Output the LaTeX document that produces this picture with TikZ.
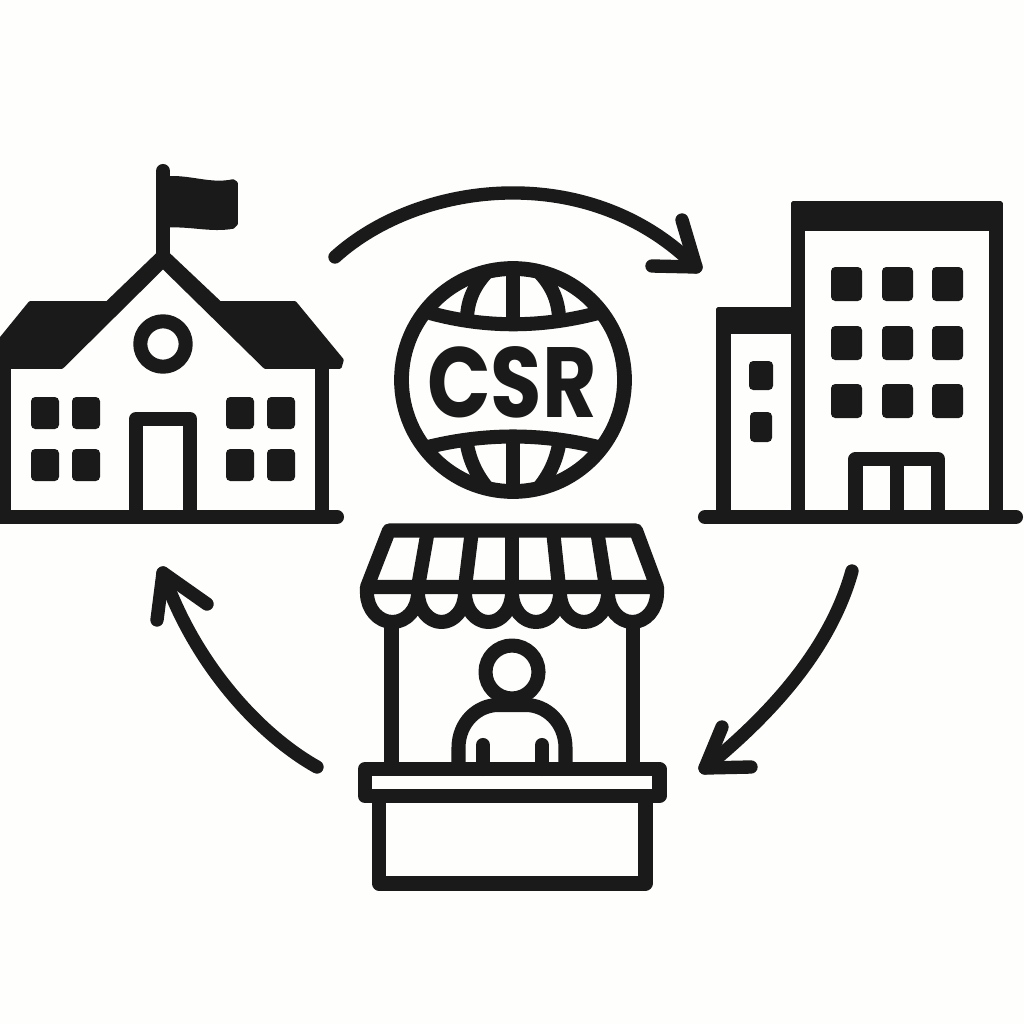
\documentclass[tikz,border=0pt]{standalone}
\usepackage{fontspec}
\setsansfont{Poppins}
\definecolor{ink}{HTML}{1A1A1A}
\definecolor{paper}{HTML}{FEFEFC}
\tikzset{
	stroke/.style={draw=ink, line width=4pt, line join=round},
	roundstroke/.style={stroke, line cap=round},
	globeline/.style={draw=ink, line width=4.2pt},
	arrowline/.style={draw=ink, line width=3.8pt, line cap=round, line join=round},
	blackpart/.style={fill=ink, draw=ink, line width=1pt, line join=round},
	windowbox/.style={fill=ink, rounded corners=1.2pt},
}

\begin{document}
\begin{tikzpicture}[x=0.01cm, y=-0.01cm]
		
		\fill[paper] (0, 0) rectangle (1024, 1024);
		\clip (0, 0) rectangle (1024, 1024);
		
		% school
		\draw[roundstroke] (163, 171) -- (163, 258);
		\fill[blackpart] (165, 178) .. controls (190, 176) and (210, 186) .. (233, 181) -- (236, 183) -- (236, 224) -- (233, 227) .. controls (210, 231) and (190, 224) .. (165, 226) -- cycle;
		\fill[blackpart] (-5, 346) -- (30, 303) -- (107, 303) -- (160, 252) -- (166, 252) -- (163, 267) -- (62, 367) -- (-5, 367) -- cycle;
		\fill[blackpart] (166, 252) -- (220, 303) -- (295, 303) -- (342, 360) -- (340, 367) -- (265, 367) -- (163, 267) -- (160, 252) -- cycle;
		\draw[stroke] (4, 360) -- (4, 517);
		\draw[stroke] (322, 360) -- (322, 517);
		\draw[stroke] (163, 344) circle (22.7);
		\draw[stroke] (136, 517) -- (136, 419) -- (190, 419) -- (190, 517);
		\foreach \wx/\wy in {31/397, 72/397, 31/449, 72/449, 226/397, 267/397, 226/449, 267/449}
			\fill[windowbox] (\wx, \wy) rectangle ++(28, 32);
		\draw[roundstroke] (-10, 517) -- (337, 517);
		
		% arrow from school to office
		\coordinate (tailA) at (335, 257);
		\coordinate (tipA) at (696, 267);
		\draw[arrowline] (tailA) .. controls (420, 180) and (590, 160) .. (tipA);
		\draw[arrowline] (682, 220) -- (tipA) -- (652, 266);
		
		% office
		\fill[blackpart] (793, 203) rectangle (1001, 229);
		\fill[blackpart] (718, 309) rectangle (798, 332);
		\draw[stroke] (798, 210) -- (798, 517);
		\draw[stroke] (996, 210) -- (996, 517);
		\draw[stroke] (723.5, 320) -- (723.5, 517);
		\foreach \wx in {831, 882, 932}
			\foreach \wy in {267, 326, 384}
				\fill[windowbox] (\wx, \wy) rectangle ++(31, 34);
		\fill[windowbox] (749, 361) rectangle (773, 390);
		\fill[windowbox] (750, 412) rectangle (772, 442);
		\draw[stroke] (855.5, 517) -- (855.5, 459) -- (938, 459) -- (938, 517);
		\draw[stroke] (897, 459) -- (897, 517);
		\draw[roundstroke] (705, 517) -- (1016, 517);
		
		% globe
		\draw[globeline] (513, 380) circle (111.5);
		\draw[stroke] (430, 313) .. controls (485, 328) and (541, 328) .. (598, 313);
		\draw[stroke] (428, 447) .. controls (485, 433) and (541, 433) .. (598, 447);
		\draw[stroke] (513, 265) -- (513, 322);
		\draw[stroke] (513, 438) -- (513, 495);
		\draw[stroke] (489, 270) .. controls (474, 285) and (468, 300) .. (467, 317);
		\draw[stroke] (537, 270) .. controls (552, 285) and (558, 300) .. (559, 317);
		\draw[stroke] (467, 445) .. controls (470, 460) and (476, 475) .. (489, 490);
		\draw[stroke] (559, 445) .. controls (556, 460) and (550, 475) .. (537, 490);
		\node[inner sep=0pt, text=ink, xscale=0.88, yscale=1.05, transform shape] (csr) at (512, 382) {\sffamily\bfseries\fontsize{27}{27}\selectfont CSR};
		
		% arrow from office to stall
		\coordinate (tailB) at (852, 571);
		\coordinate (tipB) at (705, 768);
		\draw[arrowline] (tailB) .. controls (830, 650) and (770, 715) .. (tipB);
		\draw[arrowline] (722, 727) -- (tipB) -- (751, 767);
		
		% stall
		\draw[stroke] (391.5, 620) -- (391.5, 769);
		\draw[stroke] (633, 620) -- (633, 769);
		\draw[stroke] (367, 587) -- (389, 530.5) -- (636, 530.5) -- (657, 587) -- cycle;
		\foreach \tx/\bx in {428/418, 472/465, 512/512, 553/559, 597/606}
			\draw[stroke] (\tx, 530) -- (\bx, 587);
		\draw[stroke] (367, 587) -- (367, 593) arc[start angle=180, end angle=0, x radius=25.5, y radius=29]
			arc[start angle=180, end angle=0, x radius=23.5, y radius=29]
			arc[start angle=180, end angle=0, x radius=23.5, y radius=29]
			arc[start angle=180, end angle=0, x radius=24, y radius=29]
			arc[start angle=180, end angle=0, x radius=24, y radius=29]
			arc[start angle=180, end angle=0, x radius=24.5, y radius=29] -- (657, 587);
		\draw[stroke] (512, 672) circle (26.5);
		\draw[stroke] (458.5, 769) -- (458.5, 748) .. controls (458.5, 722) and (478, 705) .. (498, 705) -- (526, 705) .. controls (546, 705) and (565.5, 722) .. (565.5, 748) -- (565.5, 769);
		\draw[roundstroke] (483, 745) -- (483, 769);
		\draw[roundstroke] (542, 745) -- (542, 769);
		\draw[stroke] (365, 769) rectangle (659.5, 796);
		\draw[stroke] (379, 796) -- (379, 883.5) -- (645.5, 883.5) -- (645.5, 796);
		
		% arrow from stall to school
		\coordinate (tailC) at (317, 767);
		\coordinate (tipC) at (163, 573);
		\draw[arrowline] (tailC) .. controls (260, 735) and (195, 665) .. (tipC);
		\draw[arrowline] (157, 620) -- (tipC) -- (207, 604);
		
	\end{tikzpicture}
\end{document}
